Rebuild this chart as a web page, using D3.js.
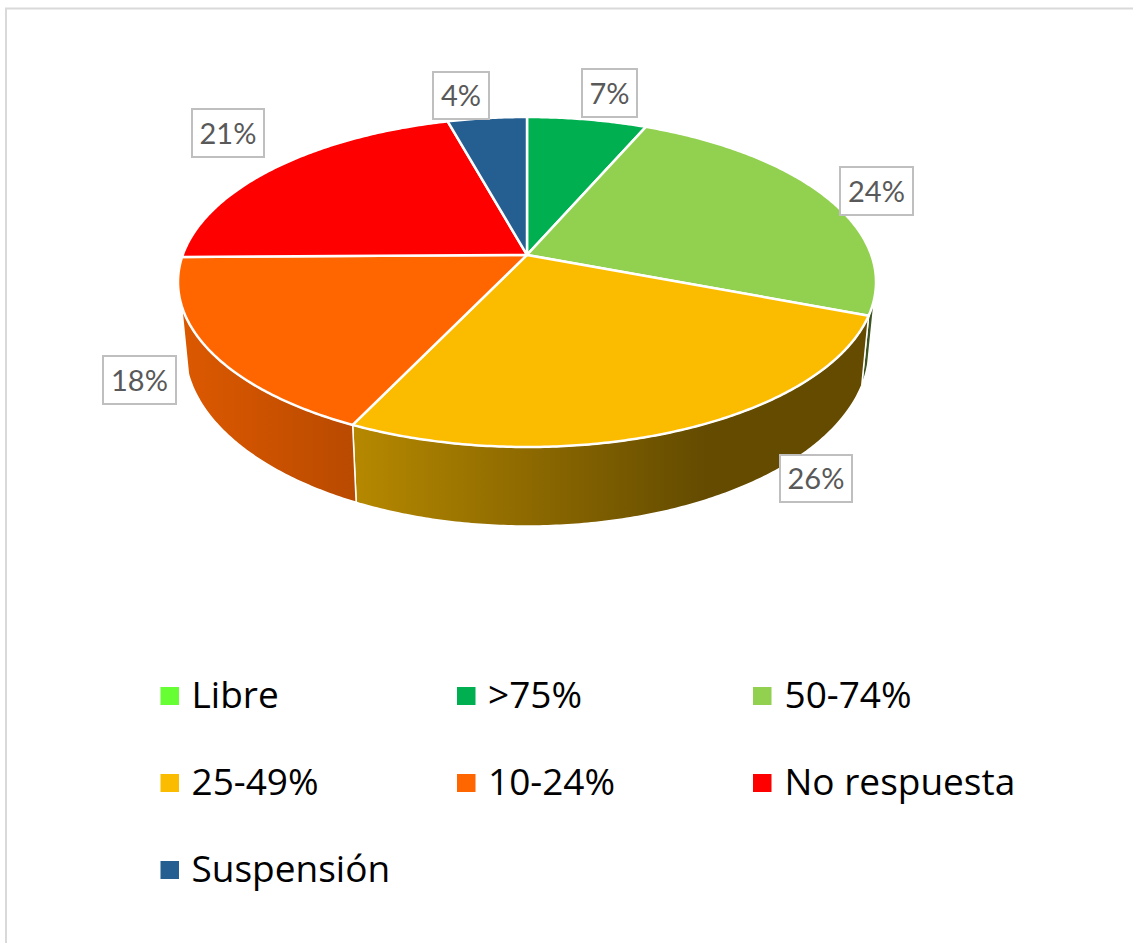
<!DOCTYPE html>
<html><head><meta charset="utf-8">
<script src="https://cdn.jsdelivr.net/npm/d3@7/dist/d3.min.js"></script>
<style>html,body{margin:0;padding:0;background:#fff;overflow:hidden}svg{display:block}</style>
</head><body><svg id="c" width="1133" height="943"></svg>
<script>
const categories = ["Libre", ">75%", "50-74%", "25-49%", "10-24%", "No respuesta", "Suspensión"];
const values = [0, 6.5, 24.3, 26.3, 17.7, 20.9, 4.3];
const colors = ["#66ff33", "#00b050", "#92d050", "#fbbc00", "#ff6600", "#ff0000", "#255e91"];
const labelBoxes = [null, [582,69,637,117], [840,167,913,215], [780,455,852,502], [103,356,176,404], [192,109,264,157], [433,72,489,119]];

const svg = d3.select("#c");
const defs = svg.append("defs");
const W = 1133, H = 943;

// frame
svg.append("path").attr("d", `M6,${H} V8.5 H${W}`).attr("fill","none").attr("stroke","#d9d9d9").attr("stroke-width",2);

// perspective disc: unit circle -> ellipse, the circle centre falling above the ellipse centre
const t = -0.164;
const upper = {cx:527, cy:282, rx:349, ry:165};
const lower = {cx:527, cy:349, rx:342, ry:177};
const proj = (e, a) => {
  const u = Math.sin(a), v = -Math.cos(a), d = 1 + t*v;
  return [e.cx + e.rx*u*Math.sqrt(1-t*t)/d, e.cy + e.ry*(v+t)/d];
};
const centre = [upper.cx, upper.cy + upper.ry*t];
const line = d3.line();
const arcPts = (e, a0, a1) => {
  const n = Math.max(1, Math.ceil(Math.abs(a1-a0)/0.01));
  return d3.range(n+1).map(i => proj(e, a0 + (a1-a0)*i/n));
};

const pie = d3.pie().sort(null).value(d => d).startAngle(0).endAngle(2*Math.PI);
const arcs = pie(values);

// walls
const shade = d3.scaleLinear().domain([190,360,700,870]).range([0.86,0.72,0.40,0.40]).clamp(true);
const wallFrom = 104*Math.PI/180, wallTo = 252.7*Math.PI/180;
function wallGradient(i){
  const g = defs.append("linearGradient").attr("id","w"+i).attr("gradientUnits","userSpaceOnUse")
    .attr("x1",180).attr("x2",880).attr("y1",0).attr("y2",0);
  const c = d3.rgb(colors[i]);
  d3.range(0,1.0001,0.05).forEach(f=>{
    const x = 180+700*f, s = shade(x);
    g.append("stop").attr("offset",f).attr("stop-color",d3.rgb(c.r*s,c.g*s,c.b*s).formatHex());
  });
  return `url(#w${i})`;
}
arcs.forEach((d,i)=>{
  const a0 = Math.max(d.startAngle, wallFrom), a1 = Math.min(d.endAngle, wallTo);
  if (a1 <= a0) return;
  const pts = arcPts(upper,a0,a1).concat(arcPts(lower,a1,a0));
  svg.append("path").attr("d", line(pts)+"Z").attr("fill", wallGradient(i))
    .attr("stroke","#fff").attr("stroke-width",1.5).attr("stroke-linejoin","round");
});

// top slices
arcs.forEach((d,i)=>{
  const pts = [centre].concat(arcPts(upper,d.startAngle,d.endAngle));
  svg.append("path").attr("d", line(pts)+"Z").attr("fill",colors[i])
    .attr("stroke","#fff").attr("stroke-width",2.5).attr("stroke-linejoin","round");
});

// data labels
arcs.forEach((d,i)=>{
  const b = labelBoxes[i];
  if (!b) return;
  svg.append("rect").attr("x",b[0]).attr("y",b[1]).attr("width",b[2]-b[0]).attr("height",b[3]-b[1])
    .attr("fill","#fff").attr("stroke","#bfbfbf").attr("stroke-width",2);
  svg.append("text").attr("x",(b[0]+b[2])/2).attr("y",(b[1]+b[3])/2+10.5)
    .attr("text-anchor","middle").attr("font-family","Lato").attr("font-size",29).attr("fill","#595959")
    .text(Math.round(values[i])+"%");
});

// legend
const colX = d3.scaleOrdinal().domain([0,1,2]).range([160.5,457,753]);
const textX = d3.scaleOrdinal().domain([0,1,2]).range([191.5,488,784.5]);
const rowY = d3.scaleOrdinal().domain([0,1,2]).range([708,795,882]);
categories.forEach((c,i)=>{
  const col = i%3, row = Math.floor(i/3);
  svg.append("rect").attr("x",colX(col)).attr("y",rowY(row)-21).attr("width",18.5).attr("height",18).attr("fill",colors[i]);
  svg.append("text").attr("x",textX(col)).attr("y",rowY(row)).attr("font-family","Open Sans").attr("font-size",37).attr("fill","#000").text(c);
});
</script></body></html>
